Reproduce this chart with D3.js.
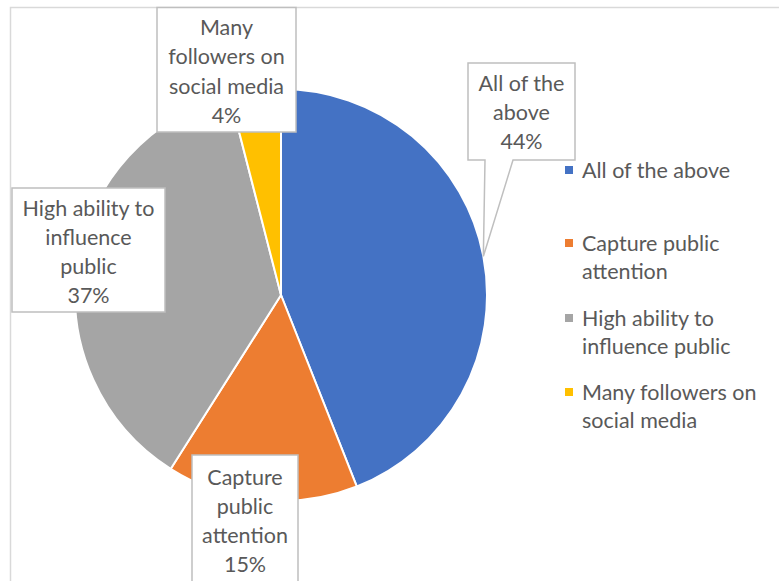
<!DOCTYPE html>
<html>
<head>
<meta charset="utf-8">
<script src="https://cdn.jsdelivr.net/npm/d3@7"></script>
<style>
  html, body { margin: 0; padding: 0; background: #fff; }
  svg { display: block; }
  text { font-family: Lato, "Open Sans", sans-serif; fill: #595959; }
</style>
</head>
<body>
<svg id="chart" width="779" height="581"></svg>
<script>
// Survey answers and their shares (percent)
const categories = ["All of the above", "Capture public attention", "High ability to influence public", "Many followers on social media"];
const values = [44, 15, 37, 4];
const colors = ["#4472C4", "#ED7D31", "#A5A5A5", "#FFC000"];

// Wrapped text for the data labels and the legend
const labelLines = [["All of the", "above"], ["Capture", "public", "attention"], ["High ability to", "influence", "public"], ["Many", "followers on", "social media"]];
const legendLines = [["All of the above"], ["Capture public", "attention"], ["High ability to", "influence public"], ["Many followers on", "social media"]];

const svg = d3.select("#chart");
const W = 779, H = 581;
const cx = 281, cy = 295, R = 206;
const fontSize = 21.5, lineH = 29.3;

// Chart area frame
svg.append("path")
  .attr("d", `M10.5,${H} L10.5,7.5 L${W},7.5`)
  .attr("fill", "none").attr("stroke", "#D9D9D9").attr("stroke-width", 1.5);

const data = categories.map((c, i) => ({ name: c, value: values[i], color: colors[i], label: labelLines[i], legend: legendLines[i] }));

const pie = d3.pie().value(d => d.value).sort(null);
const arcs = pie(data);
const arc = d3.arc().innerRadius(0).outerRadius(R);

const g = svg.append("g").attr("transform", `translate(${cx},${cy})`);
g.selectAll("path.slice").data(arcs).enter().append("path")
  .attr("class", "slice")
  .attr("d", arc)
  .attr("fill", d => d.data.color)
  .attr("stroke", "#fff").attr("stroke-width", 2).attr("stroke-linejoin", "round");

// Data label boxes (left, top, right, bottom)
const boxes = [
  { x0: 468, y0: 63, x1: 575, y1: 160, callout: true },
  { x0: 192, y0: 455, x1: 298, y1: 590 },
  { x0: 12, y0: 188, x1: 165, y1: 312 },
  { x0: 157, y0: 7.5, x1: 296, y1: 132 }
];

arcs.forEach((a, i) => {
  const b = boxes[i];
  let d;
  if (b.callout) {
    // Callout tail points to the slice's outer edge at its mid angle
    const mid = (a.startAngle + a.endAngle) / 2;
    const px = cx + Math.sin(mid) * R, py = cy - Math.cos(mid) * R;
    d = `M${b.x0},${b.y0} L${b.x1},${b.y0} L${b.x1},${b.y1} L${b.x0 + 45},${b.y1} L${px},${py} L${b.x0 + 17},${b.y1} L${b.x0},${b.y1} Z`;
  } else {
    d = `M${b.x0},${b.y0} L${b.x1},${b.y0} L${b.x1},${b.y1} L${b.x0},${b.y1} Z`;
  }
  svg.append("path").attr("d", d)
    .attr("fill", "#fff").attr("stroke", "#BFBFBF").attr("stroke-width", 1.5);

  const lines = a.data.label.concat([d3.format(".0f")(a.data.value) + "%"]);
  const midX = (b.x0 + b.x1) / 2;
  const firstY = b.y0 + 20 + (i === 1 ? 2 : 0);
  const t = svg.append("text").attr("text-anchor", "middle").attr("font-size", fontSize);
  lines.forEach((ln, k) => {
    t.append("tspan").attr("x", midX).attr("y", firstY + k * lineH).attr("dy", "0.35em").text(ln);
  });
});

// Legend
const legendY = [170, 243, 318, 392];
const legend = svg.append("g");
data.forEach((d, i) => {
  legend.append("rect").attr("x", 565).attr("y", legendY[i] - 4).attr("width", 8).attr("height", 8).attr("fill", d.color);
  const t = legend.append("text").attr("font-size", fontSize);
  d.legend.forEach((ln, k) => {
    t.append("tspan").attr("x", 582).attr("y", legendY[i] + k * 28.5).attr("dy", "0.35em").text(ln);
  });
});
</script>
</body>
</html>
